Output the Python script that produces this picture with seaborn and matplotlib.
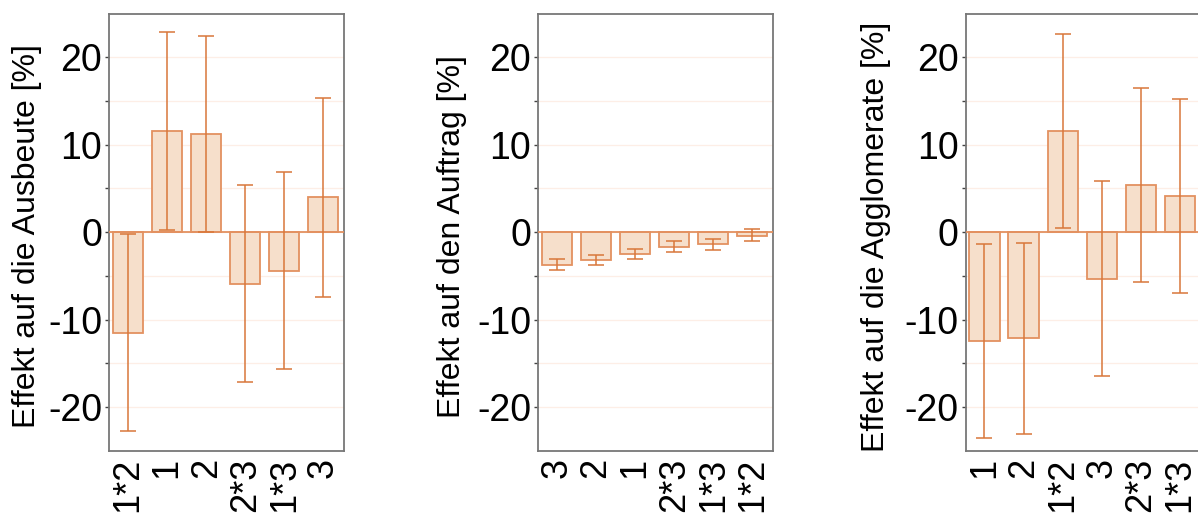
import numpy as np
import pandas as pd
import matplotlib
matplotlib.use("Agg")
import matplotlib.pyplot as plt
import seaborn as sns

# ---- data ----
labels_a = ["1*2", "1", "2", "2*3", "1*3", "3"]
effect_a = [-11.5, 11.6, 11.2, -5.9, -4.4, 4.0]
err_a = [11.3, 11.3, 11.2, 11.25, 11.3, 11.4]

labels_b = ["3", "2", "1", "2*3", "1*3", "1*2"]
effect_b = [-3.75, -3.13, -2.45, -1.65, -1.3, -0.38]
errcenter_b = [-3.65, -3.2, -2.47, -1.59, -1.36, -0.31]
err_b = [0.63, 0.61, 0.59, 0.63, 0.63, 0.65]

labels_c = ["1", "2", "1*2", "3", "2*3", "1*3"]
effect_c = [-12.4, -12.15, 11.6, -5.3, 5.4, 4.13]
err_c = [11.1, 10.9, 11.1, 11.15, 11.1, 11.1]

ylabels = ["Effekt auf die Ausbeute [%]",
           "Effekt auf den Auftrag [%]",
           "Effekt auf die Agglomerate [%]"]

sns.set_theme(style="white")
plt.rcParams['font.family'] = ['Liberation Sans', 'DejaVu Sans']
plt.rcParams['axes.unicode_minus'] = False
plt.rcParams['text.color'] = 'black'
plt.rcParams['axes.labelcolor'] = 'black'
plt.rcParams['xtick.color'] = 'black'
plt.rcParams['ytick.color'] = 'black'

FILL = "#f6dfcb"
EDGE = "#e39160"
ERR = "#d9773a"
GRID = "#fdeee6"

fig = plt.figure(figsize=(11.98, 5.15), dpi=100)
lefts = [0.0912, 0.4493, 0.8061]
label_x = [-0.285, -0.305, -0.32]

panels = [
    (labels_a, effect_a, effect_a, err_a),
    (labels_b, effect_b, errcenter_b, err_b),
    (labels_c, effect_c, effect_c, err_c),
]

for i, (labs, vals, ctr, errs) in enumerate(panels):
    ax = fig.add_axes([lefts[i], 0.1249, 0.1957, 0.8485])
    df = pd.DataFrame({"factor": labs, "effect": vals})
    for y in np.arange(-20, 25, 5):
        ax.axhline(y, color=GRID, lw=0.9, zorder=0)
    sns.barplot(data=df, x="factor", y="effect", order=labs, ax=ax,
                color=FILL, saturation=1, width=0.77,
                edgecolor=EDGE, linewidth=1.3, zorder=2)
    ax.axhline(0, color=EDGE, lw=1.3, zorder=3)
    ax.errorbar(np.arange(len(labs)), ctr, yerr=errs, fmt="none",
                ecolor=ERR, elinewidth=1.1, capsize=6, capthick=1.1, zorder=4)
    ax.set_ylim(-25, 25)
    ax.set_xlim(-0.48, 5.52)
    ax.set_yticks([-20, -10, 0, 10, 20])
    ax.set_yticks(np.arange(-20, 25, 5), minor=True)
    ax.tick_params(axis="y", which="both", direction="out", length=3,
                   width=1, color="#444444", labelsize=27, pad=2, left=True,
                   labelcolor="black")
    ax.tick_params(axis="x", length=0, labelsize=26, pad=5, rotation=90,
                   labelcolor="black")
    for t in ax.get_xticklabels():
        t.set_ha("center")
        t.set_va("top")
    ax.set_xlabel("")
    ax.set_ylabel(ylabels[i], fontsize=23, color="black")
    ax.yaxis.set_label_coords(label_x[i], 0.49)
    for s in ax.spines.values():
        s.set_color("#777777")
        s.set_linewidth(1.3)
        s.set_visible(True)

fig.savefig("out.png", dpi=100, facecolor="white")
